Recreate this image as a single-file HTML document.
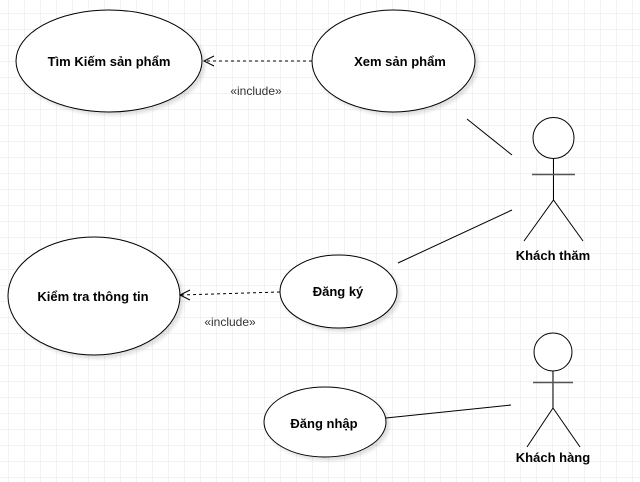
<!DOCTYPE html>
<html><head><meta charset="utf-8"><style>
html,body{margin:0;padding:0;background:#fff}
svg{display:block}
text{font-family:"Liberation Sans",sans-serif;font-size:13px;fill:#000}
.b{font-weight:bold}
</style></head><body>
<svg width="640" height="482" viewBox="0 0 640 482" xmlns="http://www.w3.org/2000/svg">
<defs>
<pattern id="g" x="8" y="13" width="16" height="16" patternUnits="userSpaceOnUse">
<path d="M0 0H16M0 0V16" stroke="#e6e6e6" stroke-width="1" fill="none"/>
</pattern>
<filter id="s" x="-10%" y="-10%" width="130%" height="130%"><feDropShadow dx="3" dy="3" stdDeviation="1.5" flood-color="#000" flood-opacity="0.12"/></filter>
</defs>
<rect width="640" height="482" fill="url(#g)"/>
<g fill="#fff" stroke="#000" stroke-width="1" filter="url(#s)">
<ellipse cx="109" cy="61" rx="93" ry="51"/>
<ellipse cx="393.5" cy="61" rx="81.5" ry="51"/>
<ellipse cx="94" cy="296" rx="86" ry="59"/>
<ellipse cx="338.5" cy="291.5" rx="58.5" ry="36.5"/>
<ellipse cx="325" cy="422" rx="61" ry="35"/>
</g>
<g stroke="#000" fill="none">
<line x1="467" y1="119" x2="512" y2="155"/>
<line x1="398" y1="263" x2="512" y2="210"/>
<line x1="386" y1="418" x2="511" y2="405"/>
<line x1="312" y1="61" x2="204" y2="61" stroke-dasharray="3,3"/>
<path d="M214 56L204 61L214 66"/>
<line x1="280" y1="292" x2="180" y2="295" stroke-dasharray="3,3"/>
<path d="M190 290L180 295L190 300"/>
<circle cx="553.5" cy="138" r="20.5" fill="#fff"/>
<line x1="553.5" y1="159" x2="553.5" y2="200"/>
<line x1="532" y1="174.5" x2="575" y2="174.5" stroke="#555" stroke-width="1.5"/>
<path d="M524 241L553.5 200L583 241"/>
<circle cx="553" cy="352" r="19" fill="#fff"/>
<line x1="553" y1="371" x2="553" y2="408"/>
<line x1="533" y1="382.5" x2="573" y2="382.5" stroke="#555" stroke-width="1.5"/>
<path d="M527 447L553 408L580 447"/>
</g>
<g class="b" text-anchor="middle">
<text x="109" y="66" class="b">Tìm Kiếm sản phẩm</text>
<text x="400" y="66" class="b">Xem sản phẩm</text>
<text x="93" y="301" class="b">Kiểm tra thông tin</text>
<text x="338" y="296" class="b">Đăng ký</text>
<text x="324" y="428" class="b">Đăng nhập</text>
<text x="553" y="260" class="b">Khách thăm</text>
<text x="553" y="462" class="b">Khách hàng</text>
</g>
<text x="256" y="95" text-anchor="middle" style="font-size:12px;fill:#333">«include»</text>
<text x="230" y="326" text-anchor="middle" style="font-size:12px;fill:#333">«include»</text>
</svg>
</body></html>
